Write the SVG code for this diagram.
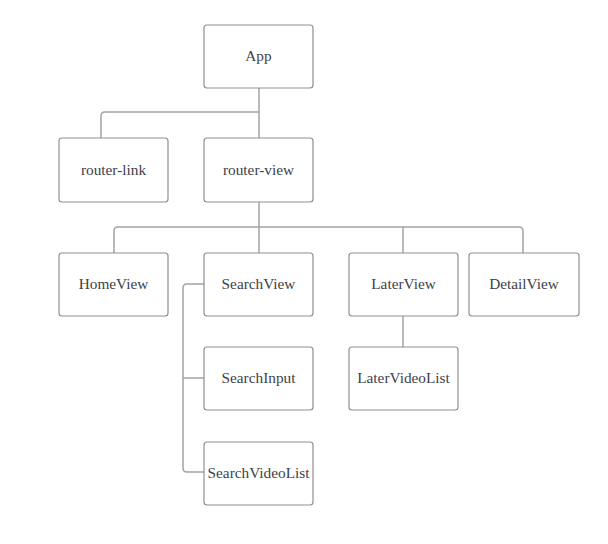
<svg xmlns="http://www.w3.org/2000/svg" width="608" height="544" viewBox="0 0 608 544">
<style>
.box{fill:#fff;stroke:#8f8f94;stroke-width:1.2}
.lbl{font-family:"Liberation Serif","DejaVu Serif",serif;font-size:15.3px;fill:#3d3f4a;text-anchor:middle;dominant-baseline:central}
.conn{fill:none;stroke:#a3a3a8;stroke-width:1.5}
</style>
<rect width="608" height="544" fill="#fff"/>
<g id="connectors" class="conn">
<path d="M259 88 V138"/>
<path d="M259 112 H105 Q101 112 101 116 V138"/>
<path d="M259 202 V253"/>
<path d="M259 227 H118 Q114 227 114 231 V253"/>
<path d="M259 227 H519 Q523 227 523 231 V253"/>
<path d="M403 227 V253"/>
<path d="M403 316 V347"/>
<path d="M204 284 H187 Q183 284 183 288 V468 Q183 472 187 472 H204"/>
<path d="M183 378 H204"/>
</g>
<g id="app"><rect class="box" x="204" y="25" width="109" height="63" rx="3"/><text class="lbl" x="258.5" y="55.5">App</text></g>
<g id="router-link"><rect class="box" x="59" y="138" width="109" height="64" rx="3"/><text class="lbl" x="113.5" y="169">router-link</text></g>
<g id="router-view"><rect class="box" x="204" y="138" width="109" height="64" rx="3"/><text class="lbl" x="258.5" y="169">router-view</text></g>
<g id="homeview"><rect class="box" x="59" y="253" width="109" height="63" rx="3"/><text class="lbl" x="113.5" y="283.5">HomeView</text></g>
<g id="searchview"><rect class="box" x="204" y="253" width="109" height="63" rx="3"/><text class="lbl" x="258.5" y="283.5">SearchView</text></g>
<g id="laterview"><rect class="box" x="349" y="253" width="109" height="63" rx="3"/><text class="lbl" x="403.5" y="283.5">LaterView</text></g>
<g id="detailview"><rect class="box" x="469" y="253" width="110" height="63" rx="3"/><text class="lbl" x="524" y="283.5">DetailView</text></g>
<g id="searchinput"><rect class="box" x="204" y="347" width="109" height="63" rx="3"/><text class="lbl" x="258.5" y="377.5">SearchInput</text></g>
<g id="latervideolist"><rect class="box" x="349" y="347" width="109" height="63" rx="3"/><text class="lbl" x="403.5" y="377.5">LaterVideoList</text></g>
<g id="searchvideolist"><rect class="box" x="204" y="442" width="109" height="63" rx="3"/><text class="lbl" x="258.5" y="472.5">SearchVideoList</text></g>
</svg>
